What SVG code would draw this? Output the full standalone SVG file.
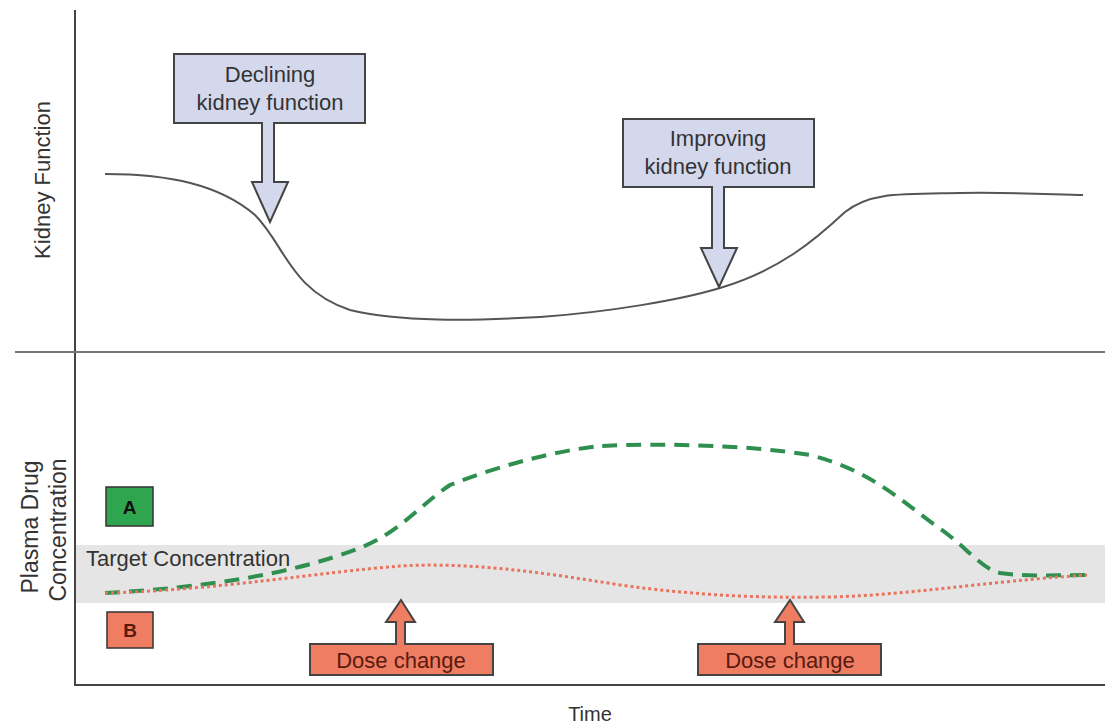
<svg xmlns="http://www.w3.org/2000/svg" width="1105" height="724" viewBox="0 0 1105 724">
<style>
.t{font-family:"Liberation Sans",Arial,sans-serif;fill:#333}
.ax{stroke:#444;stroke-width:2;fill:none}
.callout{fill:#d3d8ec;stroke:#444;stroke-width:2}
.dose{fill:#ee7d62;stroke:#444;stroke-width:2}
</style>
<rect width="1105" height="724" fill="#fff"/>
<rect x="76" y="545" width="1029" height="58" fill="#e5e5e5"/>
<g id="axes">
<line class="ax" x1="75" y1="10" x2="75" y2="686"/>
<line x1="15" y1="352" x2="1105" y2="352" stroke="#777" stroke-width="2"/>
<line class="ax" x1="75" y1="685" x2="1105" y2="685"/>
</g>
<text class="t" font-size="22" transform="translate(50,180) rotate(-90)" text-anchor="middle">Kidney Function</text>
<text class="t" font-size="23" transform="translate(38,527) rotate(-90)" text-anchor="middle">Plasma Drug</text>
<text class="t" font-size="23" transform="translate(66,530) rotate(-90)" text-anchor="middle">Concentration</text>
<text class="t" font-size="20" x="590" y="721" text-anchor="middle">Time</text>
<text class="t" font-size="22" x="86" y="566">Target Concentration</text>
<g id="connectors">
<path d="M105,174 C170,174 220,185 255,215 C285,245 290,290 350,310 C400,322 470,321 540,317 C610,312 680,300 720,288 C780,270 815,240 845,212 C870,192 900,194 960,193 C1020,192 1060,195 1083,195" fill="none" stroke="#555" stroke-width="2"/>
<path d="M105,593 C200,588 290,575 360,548 C400,532 420,505 450,485 C500,465 560,450 600,446 C660,443 750,445 810,455 C870,470 900,500 935,525 C965,545 980,568 1000,573 C1030,577 1060,575 1087,575" fill="none" stroke="#2f8f4e" stroke-width="4" stroke-dasharray="15,9"/>
<path d="M105,593 C220,590 320,572 400,566 C470,562 540,572 620,585 C700,596 760,598 830,597 C910,595 980,582 1087,575" fill="none" stroke="#e9735d" stroke-width="3" stroke-dasharray="3,3"/>
</g>
<g id="declining">
<path class="callout" d="M174,54 H365 V123 H274 V182 H288 L270,222 L252,182 H262 V123 H174 Z"/>
<text class="t" font-size="22" x="270" y="82" text-anchor="middle">Declining</text>
<text class="t" font-size="22" x="270" y="110" text-anchor="middle">kidney function</text>
</g>
<g id="improving">
<path class="callout" d="M623,119 H814 V187 H724 V248 H737 L719,287 L701,248 H712 V187 H623 Z"/>
<text class="t" font-size="22" x="718" y="146" text-anchor="middle">Improving</text>
<text class="t" font-size="22" x="718" y="174" text-anchor="middle">kidney function</text>
</g>
<g id="A">
<rect x="106" y="487" width="47" height="39" fill="#2fa54f" stroke="#333" stroke-width="1.5"/>
<text class="t" font-size="19" font-weight="bold" x="129.5" y="514" text-anchor="middle" style="fill:#111">A</text>
</g>
<g id="B">
<rect x="107" y="612" width="46" height="36" fill="#ee7d62" stroke="#333" stroke-width="1.5"/>
<text class="t" font-size="19" font-weight="bold" x="130" y="637" text-anchor="middle" style="fill:#5a1a10">B</text>
</g>
<g id="dose1">
<path class="dose" d="M310,644 H396 V622 H386 L401,600 L415,622 H405 V644 H493 V675 H310 Z"/>
<text class="t" font-size="22" x="401" y="668" text-anchor="middle" style="fill:#5a1a10">Dose change</text>
</g>
<g id="dose2">
<path class="dose" d="M698,644 H785 V622 H775 L790,600 L804,622 H794 V644 H881 V675 H698 Z"/>
<text class="t" font-size="22" x="790" y="668" text-anchor="middle" style="fill:#5a1a10">Dose change</text>
</g>
</svg>
